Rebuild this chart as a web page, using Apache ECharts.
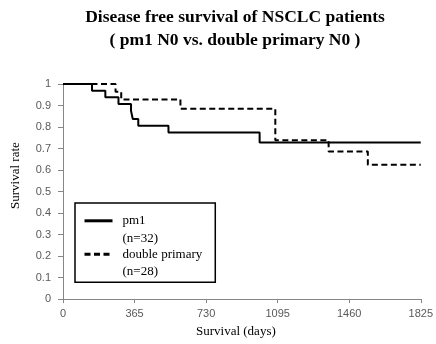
<!DOCTYPE html>
<html>
<head>
<meta charset="utf-8">
<script src="https://cdn.jsdelivr.net/npm/echarts@6/dist/echarts.min.js"></script>
<style>
  html, body { margin: 0; padding: 0; background: #fff; }
  #chart { width: 436px; height: 344px; }
</style>
</head>
<body>
<div id="chart"></div>
<script>
// Kaplan-Meier steps
var pm1Days = [0, 148, 216, 283, 347, 356, 384, 538, 1003, 1825];
var pm1Surv = [1, 0.969, 0.938, 0.907, 0.875, 0.837, 0.806, 0.775, 0.728, 0.728];
var dpDays = [0, 268, 297, 599, 1083, 1355, 1555, 1825];
var dpSurv = [1, 0.964, 0.928, 0.885, 0.739, 0.686, 0.625, 0.625];
var groupNames = ['pm1', 'double primary'];
var groupN = ['(n=32)', '(n=28)'];

function pairs(xs, ys) {
    var out = [];
    for (var i = 0; i < xs.length; i++) out.push([xs[i], ys[i]]);
    return out;
}

var serif = '"Liberation Serif", "Times New Roman", serif';
var sans = '"Liberation Sans", Arial, sans-serif';

var chart = echarts.init(document.getElementById('chart'));
chart.setOption({
    animation: false,
    title: {
        text: 'Disease free survival of NSCLC patients\n( pm1 N0 vs. double primary N0 )',
        left: 235,
        top: 6,
        padding: 0,
        textAlign: 'center',
        textStyle: {
            fontFamily: serif,
            fontSize: 17.5,
            fontWeight: 'bold',
            color: '#000',
            lineHeight: 23
        }
    },
    legend: {
        orient: 'vertical',
        left: 75,
        top: 203,
        padding: [-6.2, 13, 4, 8],
        itemGap: -14.6,
        itemWidth: 28,
        itemHeight: 14,
        borderColor: '#000',
        borderWidth: 1.5,
        data: groupNames,
        lineStyle: { width: 3 },
        itemStyle: { opacity: 0 },
        // blank first line keeps the sample line level with the group name
        formatter: function (name) {
            return '{s| }\n{t|' + name + '}\n{t|' + groupN[groupNames.indexOf(name)] + '}';
        },
        textStyle: {
            fontFamily: serif,
            fontSize: 13,
            color: '#000',
            rich: {
                s: { lineHeight: 17.5, fontSize: 13, fontFamily: serif },
                t: { lineHeight: 17.5, fontSize: 13, fontFamily: serif, color: '#000', padding: [0, 0, 0, 5] }
            }
        }
    },
    grid: {
        left: 63,
        right: 12,
        top: 84,
        bottom: 42
    },
    xAxis: {
        type: 'value',
        min: 0,
        max: 1825,
        interval: 365,
        name: 'Survival (days)',
        nameLocation: 'middle',
        nameGap: 23,
        nameTextStyle: {
            fontFamily: serif,
            fontSize: 13,
            color: '#000',
            lineHeight: 15,
            padding: [0, 12, 0, 0]
        },
        splitLine: { show: false },
        axisLine: { show: true, lineStyle: { color: '#868686', width: 1 } },
        axisTick: { show: true, length: 4, lineStyle: { color: '#868686' } },
        axisLabel: {
            margin: 9,
            fontFamily: sans,
            fontSize: 11,
            color: '#595959',
            formatter: function (v) { return String(v); }
        }
    },
    yAxis: {
        type: 'value',
        min: 0,
        max: 1,
        interval: 0.1,
        name: 'Survival rate',
        nameLocation: 'middle',
        nameGap: 41,
        nameTextStyle: {
            fontFamily: serif,
            fontSize: 13,
            color: '#000',
            padding: [0, 0, 0, 32]
        },
        splitLine: { show: false },
        axisLine: { show: true, lineStyle: { color: '#868686', width: 1 } },
        axisTick: { show: true, length: 5, lineStyle: { color: '#868686' } },
        axisLabel: {
            margin: 12,
            fontFamily: sans,
            fontSize: 11,
            color: '#595959'
        }
    },
    series: [
        {
            name: groupNames[0],
            type: 'line',
            step: 'end',
            symbol: 'none',
            color: '#000',
            lineStyle: { color: '#000', width: 2, type: 'solid' },
            data: pairs(pm1Days, pm1Surv)
        },
        {
            name: groupNames[1],
            type: 'line',
            step: 'end',
            symbol: 'none',
            color: '#000',
            lineStyle: { color: '#000', width: 2, type: [6, 3.5] },
            data: pairs(dpDays, dpSurv)
        }
    ]
});
</script>
</body>
</html>
